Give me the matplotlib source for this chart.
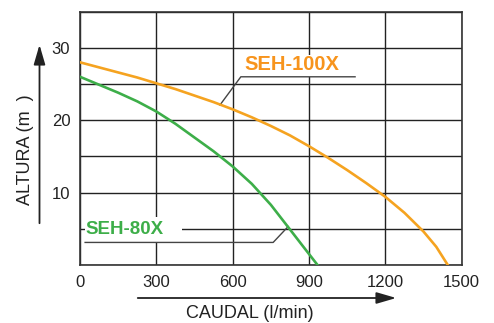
import matplotlib.pyplot as plt
from matplotlib.patches import Rectangle, FancyArrowPatch

# curvas (caudal l/min, altura m)
q_100x = [0, 75, 150, 225, 300, 375, 450, 525, 600, 675, 750, 825, 900,
          975, 1050, 1125, 1200, 1275, 1350, 1400, 1445]
h_100x = [28, 27.3, 26.6, 25.9, 25.1, 24.3, 23.4, 22.5, 21.5, 20.4, 19.2, 17.9, 16.4,
          14.8, 13.1, 11.3, 9.4, 7.2, 4.6, 2.5, 0]

q_80x = [0, 75, 150, 225, 300, 375, 450, 525, 600, 675, 750, 825, 880, 933]
h_80x = [26, 24.9, 23.8, 22.6, 21.2, 19.5, 17.6, 15.7, 13.6, 11.2, 8.3, 4.9, 2.4, 0]

x_ticks = [0, 300, 600, 900, 1200, 1500]
y_ticks = [10, 20, 30]

orange = '#F5A320'
green = '#3DAE49'
label_orange = '#F7941D'

plt.rcParams['font.family'] = ['Liberation Sans', 'DejaVu Sans']

fig = plt.figure(figsize=(4.94, 3.23), dpi=100)
ax = fig.add_axes([0.162, 0.18, 0.7726, 0.7838])

ax.set_xlim(0, 1500)
ax.set_ylim(0, 35)
ax.set_xticks(range(0, 1501, 300))
ax.set_yticks(range(0, 36, 5))
ax.set_xticklabels([str(v) for v in x_ticks], fontsize=12)
ax.set_yticklabels(['' if v not in y_ticks else str(v) for v in range(0, 36, 5)], fontsize=12)
ax.tick_params(length=0, pad=7, colors='#222222')
ax.grid(True, color='#222222', linewidth=1.0)
ax.set_axisbelow(True)
for s in ax.spines.values():
    s.set_color('#333333')
    s.set_linewidth(1.2)

# fondos blancos de las etiquetas
ax.add_patch(Rectangle((19, 3.2), 381, 3.4, facecolor='white', edgecolor='none', zorder=1.5))
ax.add_patch(Rectangle((632, 26.0), 449, 3.0, facecolor='white', edgecolor='none', zorder=1.5))

ax.plot(q_100x, h_100x, color=orange, linewidth=1.9, zorder=3, solid_joinstyle='round')
ax.plot(q_80x, h_80x, color=green, linewidth=1.9, zorder=3, solid_joinstyle='round')

# lineas guia
ax.plot([550, 632, 1081], [22.1, 26.0, 26.0], color='#444444', linewidth=1.0, zorder=2)
ax.plot([818, 759, 20], [5.3, 3.1, 3.1], color='#444444', linewidth=1.0, zorder=2)

ax.text(645, 27.7, 'SEH-100X', color=label_orange, fontsize=14.5, fontweight='bold',
        va='center', ha='left', zorder=4)
ax.text(22, 4.9, 'SEH-80X', color=green, fontsize=13.5, fontweight='bold',
        va='center', ha='left', zorder=4)

# flechas de los ejes
arrow_style = '-|>,head_length=12,head_width=3.5'
fig.patches.append(FancyArrowPatch((135 / 494, 1 - 298 / 323), (399 / 494, 1 - 298 / 323),
                                   transform=fig.transFigure, arrowstyle=arrow_style,
                                   mutation_scale=1, color='#222222', linewidth=1.3))
fig.patches.append(FancyArrowPatch((39.5 / 494, 1 - 226 / 323), (39.5 / 494, 1 - 42 / 323),
                                   transform=fig.transFigure, arrowstyle=arrow_style,
                                   mutation_scale=1, color='#222222', linewidth=1.3))

fig.text(250 / 494, 1 - 314 / 323, 'CAUDAL (l/min)', fontsize=13, ha='center', va='center', color='#222222')
fig.text(25 / 494, 1 - 150 / 323, 'ALTURA (m  )', fontsize=13, ha='center', va='center',
         rotation=90, color='#222222')

plt.savefig('out.png', dpi=100)
